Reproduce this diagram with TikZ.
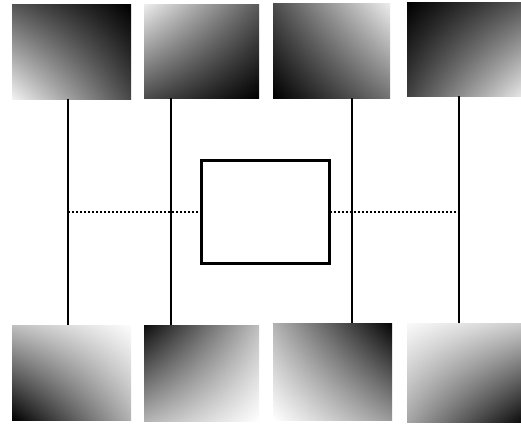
\documentclass[tikz,border=0pt]{standalone}
\usepackage{tikz}
\usetikzlibrary{calc}
% bilinear grey patch: name, top left, top right, bottom left, bottom right
\newcommand{\bilin}[5]{%
  \pgfmathsetmacro\bA{#5-#4}%
  \pgfmathsetmacro\bB{#2-#4}%
  \pgfmathsetmacro\bK{#3-#2-#5+#4}%
  \edef\bdecl{\noexpand\pgfdeclarefunctionalshading{#1}%
    {\noexpand\pgfpointorigin}{\noexpand\pgfpoint{100bp}{100bp}}{}%
    {25 sub 50 div exch 25 sub 50 div 2 copy mul \bK\space mul
     exch \bA\space mul add exch \bB\space mul add #4 add dup dup}}%
  \bdecl
}
\bilin{tsh1}{0.33}{0.00}{0.95}{0.28}
\bilin{tsh2}{0.93}{0.35}{0.30}{0.00}
\bilin{tsh3}{0.30}{0.93}{0.00}{0.45}
\bilin{tsh4}{0.00}{0.33}{0.25}{0.90}
\bilin{bsh1}{0.75}{0.99}{0.00}{0.70}
\bilin{bsh2}{0.05}{0.75}{0.70}{1.00}
\bilin{bsh3}{0.70}{0.02}{1.00}{0.60}
\bilin{bsh4}{0.98}{0.80}{0.65}{0.05}
\newcommand{\gradbox}[5]{%
  \node[gbox, minimum width=#3, minimum height=#4,
        shading=#5, shading angle=0] (#1) at #2 {};
}

\begin{document}
\begin{tikzpicture}[x=1pt, y=-1pt,
    gbox/.style={inner sep=0pt, outer sep=0pt, anchor=north west, shade},
    wire/.style={line width=2pt},
    dotwire/.style={line width=2pt, dash pattern=on 2pt off 2pt},
    core/.style={draw, line width=3pt, inner sep=0pt, outer sep=0pt,
                 minimum width=128pt, minimum height=103pt}]
  \useasboundingbox (0,0) rectangle (521,423);
  % top row
  \gradbox{t1}{(12,4)}{119pt}{95pt}{tsh1}
  \gradbox{t2}{(144,4)}{115pt}{94pt}{tsh2}
  \gradbox{t3}{(273,3)}{117pt}{95pt}{tsh3}
  \gradbox{t4}{(407,2)}{114pt}{94pt}{tsh4}
  % bottom row
  \gradbox{b1}{(12,325)}{119pt}{95pt}{bsh1}
  \gradbox{b2}{(144,325)}{115pt}{96pt}{bsh2}
  \gradbox{b3}{(273,323)}{119pt}{97pt}{bsh3}
  \gradbox{b4}{(407,323)}{114pt}{99pt}{bsh4}
  \node[core] (mid) at (265.5,212) {};
  \foreach \i/\x in {1/68, 2/171, 3/352, 4/459}
    \coordinate (v\i) at (\x,0);
  \foreach \i in {1,...,4}
    \draw[wire] (t\i.south -| v\i) -- (b\i.north -| v\i);
  \draw[dotwire] (mid.west) -- (mid.west -| v1);
  \draw[dotwire] (mid.east) -- (mid.east -| v4);
\end{tikzpicture}
\end{document}
